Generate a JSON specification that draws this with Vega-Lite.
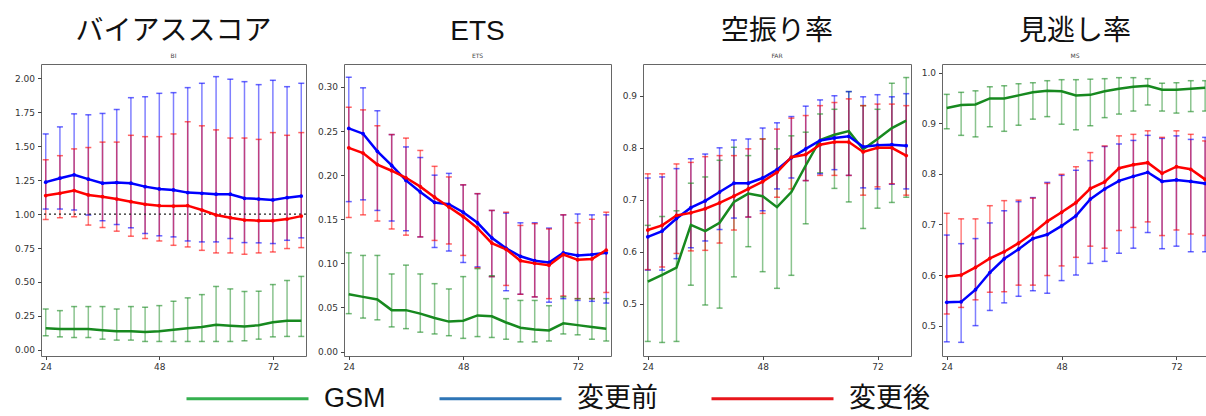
{
"$schema": "https://vega.github.io/schema/vega-lite/v6.json",
"background": "white",
"padding": {"left": 13, "top": 17, "right": 0, "bottom": 41},
"spacing": 8,
"config": {
 "view": {"stroke": "#666", "strokeWidth": 1},
 "axis": {"grid": false, "domain": false, "labelFont": "DejaVu Sans", "labelFontSize": 9, "labelColor": "#333", "tickColor": "#444", "tickSize": 3.5, "labelPadding": 3, "labelFlush": false, "labelOverlap": false},
 "title": {"font": "Liberation Sans, Noto Sans CJK JP", "fontSize": 28, "fontWeight": "normal", "color": "#111", "subtitleFont": "DejaVu Sans", "subtitleFontSize": 6, "subtitleColor": "#444", "subtitlePadding": 7.5, "offset": 5, "frame": "group", "anchor": "middle"}
},
"datasets": {"d": [
{"p":"BI","s":"GSM","x":24,"m":0.16,"lo":0.104,"hi":0.301},
{"p":"BI","s":"GSM","x":27,"m":0.153,"lo":0.096,"hi":0.289},
{"p":"BI","s":"GSM","x":30,"m":0.153,"lo":0.091,"hi":0.319},
{"p":"BI","s":"GSM","x":33,"m":0.153,"lo":0.091,"hi":0.319},
{"p":"BI","s":"GSM","x":36,"m":0.145,"lo":0.079,"hi":0.319},
{"p":"BI","s":"GSM","x":39,"m":0.137,"lo":0.072,"hi":0.301},
{"p":"BI","s":"GSM","x":42,"m":0.137,"lo":0.072,"hi":0.319},
{"p":"BI","s":"GSM","x":45,"m":0.132,"lo":0.062,"hi":0.314},
{"p":"BI","s":"GSM","x":48,"m":0.137,"lo":0.062,"hi":0.326},
{"p":"BI","s":"GSM","x":51,"m":0.148,"lo":0.062,"hi":0.358},
{"p":"BI","s":"GSM","x":54,"m":0.16,"lo":0.062,"hi":0.383},
{"p":"BI","s":"GSM","x":57,"m":0.168,"lo":0.062,"hi":0.407},
{"p":"BI","s":"GSM","x":60,"m":0.185,"lo":0.062,"hi":0.467},
{"p":"BI","s":"GSM","x":63,"m":0.178,"lo":0.062,"hi":0.449},
{"p":"BI","s":"GSM","x":66,"m":0.172,"lo":0.067,"hi":0.43},
{"p":"BI","s":"GSM","x":69,"m":0.182,"lo":0.079,"hi":0.432},
{"p":"BI","s":"GSM","x":72,"m":0.203,"lo":0.096,"hi":0.481},
{"p":"BI","s":"GSM","x":75,"m":0.215,"lo":0.099,"hi":0.511},
{"p":"BI","s":"GSM","x":78,"m":0.215,"lo":0.099,"hi":0.541},
{"p":"BI","s":"変更前","x":24,"m":1.235,"lo":1.037,"hi":1.59},
{"p":"BI","s":"変更前","x":27,"m":1.264,"lo":1.037,"hi":1.642},
{"p":"BI","s":"変更前","x":30,"m":1.289,"lo":1.03,"hi":1.738},
{"p":"BI","s":"変更前","x":33,"m":1.257,"lo":0.993,"hi":1.731},
{"p":"BI","s":"変更前","x":36,"m":1.227,"lo":0.951,"hi":1.741},
{"p":"BI","s":"変更前","x":39,"m":1.232,"lo":0.923,"hi":1.77},
{"p":"BI","s":"変更前","x":42,"m":1.227,"lo":0.899,"hi":1.857},
{"p":"BI","s":"変更前","x":45,"m":1.202,"lo":0.857,"hi":1.864},
{"p":"BI","s":"変更前","x":48,"m":1.185,"lo":0.84,"hi":1.889},
{"p":"BI","s":"変更前","x":51,"m":1.178,"lo":0.832,"hi":1.894},
{"p":"BI","s":"変更前","x":54,"m":1.158,"lo":0.802,"hi":1.931},
{"p":"BI","s":"変更前","x":57,"m":1.153,"lo":0.795,"hi":1.963},
{"p":"BI","s":"変更前","x":60,"m":1.146,"lo":0.795,"hi":2.012},
{"p":"BI","s":"変更前","x":63,"m":1.146,"lo":0.82,"hi":1.993},
{"p":"BI","s":"変更前","x":66,"m":1.116,"lo":0.79,"hi":1.975},
{"p":"BI","s":"変更前","x":69,"m":1.111,"lo":0.788,"hi":1.953},
{"p":"BI","s":"変更前","x":72,"m":1.104,"lo":0.783,"hi":1.985},
{"p":"BI","s":"変更前","x":75,"m":1.121,"lo":0.807,"hi":1.938},
{"p":"BI","s":"変更前","x":78,"m":1.133,"lo":0.825,"hi":1.963},
{"p":"BI","s":"変更後","x":24,"m":1.136,"lo":0.96,"hi":1.40},
{"p":"BI","s":"変更後","x":27,"m":1.153,"lo":0.973,"hi":1.43},
{"p":"BI","s":"変更後","x":30,"m":1.173,"lo":0.98,"hi":1.48},
{"p":"BI","s":"変更後","x":33,"m":1.141,"lo":0.919,"hi":1.49},
{"p":"BI","s":"変更後","x":36,"m":1.128,"lo":0.901,"hi":1.53},
{"p":"BI","s":"変更後","x":39,"m":1.111,"lo":0.874,"hi":1.53},
{"p":"BI","s":"変更後","x":42,"m":1.091,"lo":0.837,"hi":1.58},
{"p":"BI","s":"変更後","x":45,"m":1.072,"lo":0.82,"hi":1.57},
{"p":"BI","s":"変更後","x":48,"m":1.062,"lo":0.802,"hi":1.57},
{"p":"BI","s":"変更後","x":51,"m":1.059,"lo":0.77,"hi":1.59},
{"p":"BI","s":"変更後","x":54,"m":1.062,"lo":0.758,"hi":1.68},
{"p":"BI","s":"変更後","x":57,"m":1.03,"lo":0.733,"hi":1.65},
{"p":"BI","s":"変更後","x":60,"m":0.993,"lo":0.714,"hi":1.62},
{"p":"BI","s":"変更後","x":63,"m":0.973,"lo":0.714,"hi":1.56},
{"p":"BI","s":"変更後","x":66,"m":0.956,"lo":0.704,"hi":1.56},
{"p":"BI","s":"変更後","x":69,"m":0.951,"lo":0.714,"hi":1.55},
{"p":"BI","s":"変更後","x":72,"m":0.951,"lo":0.721,"hi":1.60},
{"p":"BI","s":"変更後","x":75,"m":0.963,"lo":0.746,"hi":1.58},
{"p":"BI","s":"変更後","x":78,"m":0.985,"lo":0.753,"hi":1.60},
{"p":"ETS","s":"GSM","x":24,"m":0.065,"lo":0.043,"hi":0.112},
{"p":"ETS","s":"GSM","x":27,"m":0.062,"lo":0.038,"hi":0.109},
{"p":"ETS","s":"GSM","x":30,"m":0.059,"lo":0.036,"hi":0.109},
{"p":"ETS","s":"GSM","x":33,"m":0.047,"lo":0.028,"hi":0.088},
{"p":"ETS","s":"GSM","x":36,"m":0.047,"lo":0.026,"hi":0.098},
{"p":"ETS","s":"GSM","x":39,"m":0.043,"lo":0.022,"hi":0.088},
{"p":"ETS","s":"GSM","x":42,"m":0.038,"lo":0.02,"hi":0.077},
{"p":"ETS","s":"GSM","x":45,"m":0.034,"lo":0.018,"hi":0.071},
{"p":"ETS","s":"GSM","x":48,"m":0.035,"lo":0.015,"hi":0.085},
{"p":"ETS","s":"GSM","x":51,"m":0.041,"lo":0.017,"hi":0.094},
{"p":"ETS","s":"GSM","x":54,"m":0.04,"lo":0.016,"hi":0.086},
{"p":"ETS","s":"GSM","x":57,"m":0.033,"lo":0.014,"hi":0.06},
{"p":"ETS","s":"GSM","x":60,"m":0.027,"lo":0.011,"hi":0.058},
{"p":"ETS","s":"GSM","x":63,"m":0.025,"lo":0.011,"hi":0.058},
{"p":"ETS","s":"GSM","x":66,"m":0.024,"lo":0.012,"hi":0.052},
{"p":"ETS","s":"GSM","x":69,"m":0.032,"lo":0.02,"hi":0.062},
{"p":"ETS","s":"GSM","x":72,"m":0.03,"lo":0.019,"hi":0.06},
{"p":"ETS","s":"GSM","x":75,"m":0.028,"lo":0.014,"hi":0.06},
{"p":"ETS","s":"GSM","x":78,"m":0.026,"lo":0.012,"hi":0.06},
{"p":"ETS","s":"変更前","x":24,"m":0.253,"lo":0.17,"hi":0.311},
{"p":"ETS","s":"変更前","x":27,"m":0.247,"lo":0.172,"hi":0.299},
{"p":"ETS","s":"変更前","x":30,"m":0.227,"lo":0.16,"hi":0.273},
{"p":"ETS","s":"変更前","x":33,"m":0.211,"lo":0.148,"hi":0.246},
{"p":"ETS","s":"変更前","x":36,"m":0.194,"lo":0.137,"hi":0.232},
{"p":"ETS","s":"変更前","x":39,"m":0.181,"lo":0.13,"hi":0.22},
{"p":"ETS","s":"変更前","x":42,"m":0.169,"lo":0.118,"hi":0.2},
{"p":"ETS","s":"変更前","x":45,"m":0.167,"lo":0.114,"hi":0.202},
{"p":"ETS","s":"変更前","x":48,"m":0.158,"lo":0.101,"hi":0.189},
{"p":"ETS","s":"変更前","x":51,"m":0.146,"lo":0.096,"hi":0.179},
{"p":"ETS","s":"変更前","x":54,"m":0.129,"lo":0.085,"hi":0.16},
{"p":"ETS","s":"変更前","x":57,"m":0.117,"lo":0.069,"hi":0.157},
{"p":"ETS","s":"変更前","x":60,"m":0.108,"lo":0.065,"hi":0.146},
{"p":"ETS","s":"変更前","x":63,"m":0.103,"lo":0.062,"hi":0.146},
{"p":"ETS","s":"変更前","x":66,"m":0.101,"lo":0.056,"hi":0.14},
{"p":"ETS","s":"変更前","x":69,"m":0.112,"lo":0.06,"hi":0.155},
{"p":"ETS","s":"変更前","x":72,"m":0.109,"lo":0.058,"hi":0.156},
{"p":"ETS","s":"変更前","x":75,"m":0.11,"lo":0.057,"hi":0.155},
{"p":"ETS","s":"変更前","x":78,"m":0.112,"lo":0.055,"hi":0.155},
{"p":"ETS","s":"変更後","x":24,"m":0.231,"lo":0.152,"hi":0.277},
{"p":"ETS","s":"変更後","x":27,"m":0.225,"lo":0.155,"hi":0.274},
{"p":"ETS","s":"変更後","x":30,"m":0.212,"lo":0.148,"hi":0.256},
{"p":"ETS","s":"変更後","x":33,"m":0.205,"lo":0.139,"hi":0.246},
{"p":"ETS","s":"変更後","x":36,"m":0.197,"lo":0.132,"hi":0.242},
{"p":"ETS","s":"変更後","x":39,"m":0.187,"lo":0.13,"hi":0.228},
{"p":"ETS","s":"変更後","x":42,"m":0.175,"lo":0.126,"hi":0.21},
{"p":"ETS","s":"変更後","x":45,"m":0.164,"lo":0.122,"hi":0.198},
{"p":"ETS","s":"変更後","x":48,"m":0.153,"lo":0.109,"hi":0.189},
{"p":"ETS","s":"変更後","x":51,"m":0.14,"lo":0.095,"hi":0.179},
{"p":"ETS","s":"変更後","x":54,"m":0.123,"lo":0.085,"hi":0.16},
{"p":"ETS","s":"変更後","x":57,"m":0.116,"lo":0.075,"hi":0.158},
{"p":"ETS","s":"変更後","x":60,"m":0.103,"lo":0.065,"hi":0.143},
{"p":"ETS","s":"変更後","x":63,"m":0.1,"lo":0.062,"hi":0.145},
{"p":"ETS","s":"変更後","x":66,"m":0.098,"lo":0.06,"hi":0.139},
{"p":"ETS","s":"変更後","x":69,"m":0.11,"lo":0.063,"hi":0.155},
{"p":"ETS","s":"変更後","x":72,"m":0.104,"lo":0.06,"hi":0.146},
{"p":"ETS","s":"変更後","x":75,"m":0.105,"lo":0.06,"hi":0.15},
{"p":"ETS","s":"変更後","x":78,"m":0.115,"lo":0.067,"hi":0.158},
{"p":"FAR","s":"GSM","x":24,"m":0.543,"lo":0.428,"hi":0.651},
{"p":"FAR","s":"GSM","x":27,"m":0.556,"lo":0.426,"hi":0.668},
{"p":"FAR","s":"GSM","x":30,"m":0.57,"lo":0.428,"hi":0.679},
{"p":"FAR","s":"GSM","x":33,"m":0.652,"lo":0.536,"hi":0.732},
{"p":"FAR","s":"GSM","x":36,"m":0.64,"lo":0.498,"hi":0.744},
{"p":"FAR","s":"GSM","x":39,"m":0.656,"lo":0.492,"hi":0.776},
{"p":"FAR","s":"GSM","x":42,"m":0.696,"lo":0.552,"hi":0.801},
{"p":"FAR","s":"GSM","x":45,"m":0.712,"lo":0.61,"hi":0.785},
{"p":"FAR","s":"GSM","x":48,"m":0.707,"lo":0.562,"hi":0.817},
{"p":"FAR","s":"GSM","x":51,"m":0.686,"lo":0.53,"hi":0.798},
{"p":"FAR","s":"GSM","x":54,"m":0.715,"lo":0.555,"hi":0.823},
{"p":"FAR","s":"GSM","x":57,"m":0.766,"lo":0.654,"hi":0.83},
{"p":"FAR","s":"GSM","x":60,"m":0.815,"lo":0.752,"hi":0.865},
{"p":"FAR","s":"GSM","x":63,"m":0.825,"lo":0.722,"hi":0.874},
{"p":"FAR","s":"GSM","x":66,"m":0.832,"lo":0.696,"hi":0.908},
{"p":"FAR","s":"GSM","x":69,"m":0.797,"lo":0.645,"hi":0.881},
{"p":"FAR","s":"GSM","x":72,"m":0.817,"lo":0.684,"hi":0.874},
{"p":"FAR","s":"GSM","x":75,"m":0.838,"lo":0.695,"hi":0.924},
{"p":"FAR","s":"GSM","x":78,"m":0.852,"lo":0.705,"hi":0.935},
{"p":"FAR","s":"変更前","x":24,"m":0.629,"lo":0.565,"hi":0.742},
{"p":"FAR","s":"変更前","x":27,"m":0.64,"lo":0.565,"hi":0.744},
{"p":"FAR","s":"変更前","x":30,"m":0.664,"lo":0.587,"hi":0.76},
{"p":"FAR","s":"変更前","x":33,"m":0.685,"lo":0.608,"hi":0.779},
{"p":"FAR","s":"変更前","x":36,"m":0.698,"lo":0.621,"hi":0.788},
{"p":"FAR","s":"変更前","x":39,"m":0.715,"lo":0.643,"hi":0.8},
{"p":"FAR","s":"変更前","x":42,"m":0.732,"lo":0.665,"hi":0.815},
{"p":"FAR","s":"変更前","x":45,"m":0.732,"lo":0.667,"hi":0.817},
{"p":"FAR","s":"変更前","x":48,"m":0.742,"lo":0.679,"hi":0.838},
{"p":"FAR","s":"変更前","x":51,"m":0.758,"lo":0.721,"hi":0.848},
{"p":"FAR","s":"変更前","x":54,"m":0.781,"lo":0.742,"hi":0.86},
{"p":"FAR","s":"変更前","x":57,"m":0.798,"lo":0.737,"hi":0.88},
{"p":"FAR","s":"変更前","x":60,"m":0.814,"lo":0.75,"hi":0.892},
{"p":"FAR","s":"変更前","x":63,"m":0.819,"lo":0.758,"hi":0.9},
{"p":"FAR","s":"変更前","x":66,"m":0.822,"lo":0.747,"hi":0.908},
{"p":"FAR","s":"変更前","x":69,"m":0.802,"lo":0.723,"hi":0.898},
{"p":"FAR","s":"変更前","x":72,"m":0.805,"lo":0.721,"hi":0.902},
{"p":"FAR","s":"変更前","x":75,"m":0.806,"lo":0.73,"hi":0.898},
{"p":"FAR","s":"変更前","x":78,"m":0.804,"lo":0.721,"hi":0.904},
{"p":"FAR","s":"変更後","x":24,"m":0.642,"lo":0.566,"hi":0.75},
{"p":"FAR","s":"変更後","x":27,"m":0.651,"lo":0.571,"hi":0.75},
{"p":"FAR","s":"変更後","x":30,"m":0.67,"lo":0.597,"hi":0.769},
{"p":"FAR","s":"変更後","x":33,"m":0.675,"lo":0.602,"hi":0.772},
{"p":"FAR","s":"変更後","x":36,"m":0.683,"lo":0.603,"hi":0.783},
{"p":"FAR","s":"変更後","x":39,"m":0.694,"lo":0.617,"hi":0.785},
{"p":"FAR","s":"変更後","x":42,"m":0.707,"lo":0.642,"hi":0.785},
{"p":"FAR","s":"変更後","x":45,"m":0.721,"lo":0.667,"hi":0.798},
{"p":"FAR","s":"変更後","x":48,"m":0.735,"lo":0.674,"hi":0.817},
{"p":"FAR","s":"変更後","x":51,"m":0.753,"lo":0.705,"hi":0.836},
{"p":"FAR","s":"変更後","x":54,"m":0.782,"lo":0.721,"hi":0.857},
{"p":"FAR","s":"変更後","x":57,"m":0.787,"lo":0.737,"hi":0.862},
{"p":"FAR","s":"変更後","x":60,"m":0.806,"lo":0.747,"hi":0.881},
{"p":"FAR","s":"変更後","x":63,"m":0.811,"lo":0.747,"hi":0.887},
{"p":"FAR","s":"変更後","x":66,"m":0.811,"lo":0.747,"hi":0.894},
{"p":"FAR","s":"変更後","x":69,"m":0.792,"lo":0.709,"hi":0.881},
{"p":"FAR","s":"変更後","x":72,"m":0.8,"lo":0.725,"hi":0.884},
{"p":"FAR","s":"変更後","x":75,"m":0.8,"lo":0.731,"hi":0.884},
{"p":"FAR","s":"変更後","x":78,"m":0.785,"lo":0.709,"hi":0.881},
{"p":"MS","s":"GSM","x":24,"m":0.93,"lo":0.889,"hi":0.957},
{"p":"MS","s":"GSM","x":27,"m":0.936,"lo":0.876,"hi":0.961},
{"p":"MS","s":"GSM","x":30,"m":0.937,"lo":0.873,"hi":0.964},
{"p":"MS","s":"GSM","x":33,"m":0.949,"lo":0.893,"hi":0.972},
{"p":"MS","s":"GSM","x":36,"m":0.949,"lo":0.884,"hi":0.974},
{"p":"MS","s":"GSM","x":39,"m":0.955,"lo":0.896,"hi":0.978},
{"p":"MS","s":"GSM","x":42,"m":0.961,"lo":0.908,"hi":0.98},
{"p":"MS","s":"GSM","x":45,"m":0.964,"lo":0.913,"hi":0.984},
{"p":"MS","s":"GSM","x":48,"m":0.963,"lo":0.898,"hi":0.986},
{"p":"MS","s":"GSM","x":51,"m":0.955,"lo":0.887,"hi":0.986},
{"p":"MS","s":"GSM","x":54,"m":0.956,"lo":0.895,"hi":0.987},
{"p":"MS","s":"GSM","x":57,"m":0.963,"lo":0.911,"hi":0.988},
{"p":"MS","s":"GSM","x":60,"m":0.968,"lo":0.918,"hi":0.99},
{"p":"MS","s":"GSM","x":63,"m":0.972,"lo":0.924,"hi":0.99},
{"p":"MS","s":"GSM","x":66,"m":0.974,"lo":0.936,"hi":0.988},
{"p":"MS","s":"GSM","x":69,"m":0.966,"lo":0.924,"hi":0.979},
{"p":"MS","s":"GSM","x":72,"m":0.966,"lo":0.92,"hi":0.98},
{"p":"MS","s":"GSM","x":75,"m":0.968,"lo":0.923,"hi":0.984},
{"p":"MS","s":"GSM","x":78,"m":0.97,"lo":0.924,"hi":0.984},
{"p":"MS","s":"変更前","x":24,"m":0.546,"lo":0.468,"hi":0.679},
{"p":"MS","s":"変更前","x":27,"m":0.547,"lo":0.467,"hi":0.662},
{"p":"MS","s":"変更前","x":30,"m":0.571,"lo":0.5,"hi":0.672},
{"p":"MS","s":"変更前","x":33,"m":0.605,"lo":0.53,"hi":0.703},
{"p":"MS","s":"変更前","x":36,"m":0.632,"lo":0.545,"hi":0.727},
{"p":"MS","s":"変更前","x":39,"m":0.651,"lo":0.558,"hi":0.745},
{"p":"MS","s":"変更前","x":42,"m":0.672,"lo":0.569,"hi":0.753},
{"p":"MS","s":"変更前","x":45,"m":0.68,"lo":0.564,"hi":0.783},
{"p":"MS","s":"変更前","x":48,"m":0.697,"lo":0.589,"hi":0.797},
{"p":"MS","s":"変更前","x":51,"m":0.717,"lo":0.6,"hi":0.807},
{"p":"MS","s":"変更前","x":54,"m":0.75,"lo":0.623,"hi":0.826},
{"p":"MS","s":"変更前","x":57,"m":0.77,"lo":0.627,"hi":0.854},
{"p":"MS","s":"変更前","x":60,"m":0.786,"lo":0.643,"hi":0.859},
{"p":"MS","s":"変更前","x":63,"m":0.795,"lo":0.653,"hi":0.866},
{"p":"MS","s":"変更前","x":66,"m":0.803,"lo":0.684,"hi":0.876},
{"p":"MS","s":"変更前","x":69,"m":0.785,"lo":0.652,"hi":0.87},
{"p":"MS","s":"変更前","x":72,"m":0.788,"lo":0.657,"hi":0.875},
{"p":"MS","s":"変更前","x":75,"m":0.785,"lo":0.646,"hi":0.868},
{"p":"MS","s":"変更前","x":78,"m":0.781,"lo":0.646,"hi":0.872},
{"p":"MS","s":"変更後","x":24,"m":0.597,"lo":0.523,"hi":0.722},
{"p":"MS","s":"変更後","x":27,"m":0.6,"lo":0.536,"hi":0.711},
{"p":"MS","s":"変更後","x":30,"m":0.615,"lo":0.551,"hi":0.711},
{"p":"MS","s":"変更後","x":33,"m":0.633,"lo":0.566,"hi":0.737},
{"p":"MS","s":"変更後","x":36,"m":0.646,"lo":0.567,"hi":0.747},
{"p":"MS","s":"変更後","x":39,"m":0.663,"lo":0.58,"hi":0.748},
{"p":"MS","s":"変更後","x":42,"m":0.683,"lo":0.58,"hi":0.752},
{"p":"MS","s":"変更後","x":45,"m":0.706,"lo":0.599,"hi":0.781},
{"p":"MS","s":"変更後","x":48,"m":0.724,"lo":0.618,"hi":0.799},
{"p":"MS","s":"変更後","x":51,"m":0.743,"lo":0.635,"hi":0.814},
{"p":"MS","s":"変更後","x":54,"m":0.771,"lo":0.657,"hi":0.842},
{"p":"MS","s":"変更後","x":57,"m":0.784,"lo":0.653,"hi":0.855},
{"p":"MS","s":"変更後","x":60,"m":0.811,"lo":0.688,"hi":0.875},
{"p":"MS","s":"変更後","x":63,"m":0.818,"lo":0.694,"hi":0.878},
{"p":"MS","s":"変更後","x":66,"m":0.822,"lo":0.705,"hi":0.885},
{"p":"MS","s":"変更後","x":69,"m":0.801,"lo":0.678,"hi":0.872},
{"p":"MS","s":"変更後","x":72,"m":0.814,"lo":0.689,"hi":0.885},
{"p":"MS","s":"変更後","x":75,"m":0.809,"lo":0.681,"hi":0.878},
{"p":"MS","s":"変更後","x":78,"m":0.789,"lo":0.678,"hi":0.865}
]},
"hconcat": [
{
 "width": 265, "height": 292,
 "title": {"text": "バイアススコア", "subtitle": "BI"},
 "data": {"name": "d"},
 "transform": [{"filter": "datum.p === 'BI'"}],
 "encoding": {
  "color": {"field": "s", "type": "nominal", "scale": {"range": ["#17891f", "#0000ff", "#ff0000"]}, "legend": null}
 },
 "layer": [
  {"mark": {"type": "rule", "strokeWidth": 1.5, "opacity": 0.5}, "encoding": {"x": {"field": "x", "type": "quantitative", "title": null, "scale": {"domain": [23, 79], "nice": false, "zero": false}, "axis": {"values": [24, 48, 72]}}, "y": {"field": "lo", "type": "quantitative", "title": null, "scale": {"domain": [-0.045, 2.105], "nice": false, "zero": false}, "axis": {"values": [0, 0.25, 0.5, 0.75, 1, 1.25, 1.5, 1.75, 2], "tickCount": 9, "format": ".2f", "title": null}}, "y2": {"field": "hi"}}},
  {"mark": {"type": "point", "shape": "stroke", "size": 36, "strokeWidth": 1.5, "opacity": 0.6}, "encoding": {"x": {"field": "x", "type": "quantitative"}, "y": {"field": "lo", "type": "quantitative", "title": null, "axis": {"values": [0, 0.25, 0.5, 0.75, 1, 1.25, 1.5, 1.75, 2], "tickCount": 9, "format": ".2f", "title": null}}}},
  {"mark": {"type": "point", "shape": "stroke", "size": 36, "strokeWidth": 1.5, "opacity": 0.6}, "encoding": {"x": {"field": "x", "type": "quantitative"}, "y": {"field": "hi", "type": "quantitative", "title": null, "axis": {"values": [0, 0.25, 0.5, 0.75, 1, 1.25, 1.5, 1.75, 2], "tickCount": 9, "format": ".2f", "title": null}}}},
  {"transform": [{"filter": "datum.s === 'GSM' && datum.x === 24"}], "mark": {"type": "rule", "strokeDash": [2, 3], "strokeWidth": 1.2}, "encoding": {"y": {"datum": 1, "type": "quantitative", "title": null, "axis": {"values": [0, 0.25, 0.5, 0.75, 1, 1.25, 1.5, 1.75, 2], "tickCount": 9, "format": ".2f", "title": null}}, "color": {"value": "#222"}}},
  {"mark": {"type": "line", "strokeWidth": 2.5}, "encoding": {"x": {"field": "x", "type": "quantitative"}, "y": {"field": "m", "type": "quantitative", "title": null, "axis": {"values": [0, 0.25, 0.5, 0.75, 1, 1.25, 1.5, 1.75, 2], "tickCount": 9, "format": ".2f", "title": null}}}},
  {"transform": [{"filter": "datum.s !== 'GSM'"}], "mark": {"type": "point", "filled": true, "size": 14, "opacity": 1}, "encoding": {"x": {"field": "x", "type": "quantitative"}, "y": {"field": "m", "type": "quantitative", "title": null, "axis": {"values": [0, 0.25, 0.5, 0.75, 1, 1.25, 1.5, 1.75, 2], "tickCount": 9, "format": ".2f", "title": null}}}},
  {"transform": [{"filter": "datum.x < 0"}], "mark": {"type": "line"}, "encoding": {"x": {"field": "x", "type": "quantitative"}, "y": {"field": "m", "type": "quantitative", "title": null, "axis": {"values": [0, 0.25, 0.5, 0.75, 1, 1.25, 1.5, 1.75, 2], "tickCount": 9, "format": ".2f", "title": null}}, "stroke": {"field": "s", "type": "nominal", "scale": {"domain": ["GSM", "変更前", "変更後"], "range": ["#35b04f", "#2e75b6", "#e8161c"]}, "legend": {"orient": "none", "legendX": 144, "legendY": 272, "direction": "horizontal", "title": null, "padding": 0, "symbolType": "stroke", "symbolSize": 14884, "symbolStrokeWidth": 3, "symbolOpacity": 1, "labelFont": "Liberation Sans, Noto Sans CJK JP", "labelFontSize": 27, "labelColor": "#111", "labelOffset": 14, "columnPadding": 47, "labelLimit": 300}}}}
 ]
},
{
 "width": 267, "height": 292,
 "title": {"text": "ETS", "subtitle": "ETS"},
 "data": {"name": "d"},
 "transform": [{"filter": "datum.p === 'ETS'"}],
 "encoding": {
  "x": {"field": "x", "type": "quantitative", "title": null, "scale": {"domain": [23, 79], "nice": false, "zero": false}, "axis": {"values": [24, 48, 72]}},
  "color": {"field": "s", "type": "nominal", "scale": {"range": ["#17891f", "#0000ff", "#ff0000"]}, "legend": null}
 },
 "layer": [
  {"mark": {"type": "rule", "strokeWidth": 1.5, "opacity": 0.5}, "encoding": {"y": {"field": "lo", "type": "quantitative", "title": null, "scale": {"domain": [-0.005, 0.326], "nice": false, "zero": false}, "axis": {"values": [0, 0.05, 0.1, 0.15, 0.2, 0.25, 0.3], "format": ".2f", "title": null}}, "y2": {"field": "hi"}}},
  {"mark": {"type": "point", "shape": "stroke", "size": 36, "strokeWidth": 1.5, "opacity": 0.6}, "encoding": {"y": {"field": "lo", "type": "quantitative", "title": null}}},
  {"mark": {"type": "point", "shape": "stroke", "size": 36, "strokeWidth": 1.5, "opacity": 0.6}, "encoding": {"y": {"field": "hi", "type": "quantitative", "title": null}}},
  {"mark": {"type": "line", "strokeWidth": 2.5}, "encoding": {"y": {"field": "m", "type": "quantitative", "title": null}}},
  {"transform": [{"filter": "datum.s !== 'GSM'"}], "mark": {"type": "point", "filled": true, "size": 14, "opacity": 1}, "encoding": {"y": {"field": "m", "type": "quantitative", "title": null}}}
 ]
},
{
 "width": 268, "height": 292,
 "title": {"text": "空振り率", "subtitle": "FAR"},
 "data": {"name": "d"},
 "transform": [{"filter": "datum.p === 'FAR'"}],
 "encoding": {
  "x": {"field": "x", "type": "quantitative", "title": null, "scale": {"domain": [23, 79], "nice": false, "zero": false}, "axis": {"values": [24, 48, 72]}},
  "color": {"field": "s", "type": "nominal", "scale": {"range": ["#17891f", "#0000ff", "#ff0000"]}, "legend": null}
 },
 "layer": [
  {"mark": {"type": "rule", "strokeWidth": 1.5, "opacity": 0.5}, "encoding": {"y": {"field": "lo", "type": "quantitative", "title": null, "scale": {"domain": [0.40, 0.961], "nice": false, "zero": false}, "axis": {"values": [0.5, 0.6, 0.7, 0.8, 0.9], "format": ".1f", "title": null}}, "y2": {"field": "hi"}}},
  {"mark": {"type": "point", "shape": "stroke", "size": 36, "strokeWidth": 1.5, "opacity": 0.6}, "encoding": {"y": {"field": "lo", "type": "quantitative", "title": null}}},
  {"mark": {"type": "point", "shape": "stroke", "size": 36, "strokeWidth": 1.5, "opacity": 0.6}, "encoding": {"y": {"field": "hi", "type": "quantitative", "title": null}}},
  {"mark": {"type": "line", "strokeWidth": 2.5}, "encoding": {"y": {"field": "m", "type": "quantitative", "title": null}}},
  {"transform": [{"filter": "datum.s !== 'GSM'"}], "mark": {"type": "point", "filled": true, "size": 14, "opacity": 1}, "encoding": {"y": {"field": "m", "type": "quantitative", "title": null}}}
 ]
},
{
 "width": 266, "height": 292,
 "view": {"stroke": null},
 "title": {"text": "見逃し率", "subtitle": "MS"},
 "data": {"name": "d"},
 "transform": [{"filter": "datum.p === 'MS'"}],
 "resolve": {"axis": {"x": "independent"}},
 "encoding": {
  "x": {"field": "x", "type": "quantitative", "title": null, "scale": {"domain": [23, 78.6], "nice": false, "zero": false}, "axis": null},
  "color": {"field": "s", "type": "nominal", "scale": {"range": ["#17891f", "#0000ff", "#ff0000"]}, "legend": null}
 },
 "layer": [
  {"mark": {"type": "rule", "strokeWidth": 1.5, "opacity": 0.5}, "encoding": {"x": {"field": "x", "type": "quantitative", "title": null, "axis": {"values": [24, 48, 72], "domain": true, "domainColor": "#666"}}, "y": {"field": "lo", "type": "quantitative", "title": null, "scale": {"domain": [0.44, 1.017], "nice": false, "zero": false}, "axis": {"values": [0.5, 0.6, 0.7, 0.8, 0.9, 1.0], "format": ".1f", "title": null, "domain": true, "domainColor": "#666"}}, "y2": {"field": "hi"}}},
  {"mark": {"type": "point", "shape": "stroke", "size": 36, "strokeWidth": 1.5, "opacity": 0.6}, "encoding": {"y": {"field": "lo", "type": "quantitative", "title": null}}},
  {"mark": {"type": "point", "shape": "stroke", "size": 36, "strokeWidth": 1.5, "opacity": 0.6}, "encoding": {"y": {"field": "hi", "type": "quantitative", "title": null}}},
  {"mark": {"type": "line", "strokeWidth": 2.5}, "encoding": {"y": {"field": "m", "type": "quantitative", "title": null}}},
  {"transform": [{"filter": "datum.s !== 'GSM'"}], "mark": {"type": "point", "filled": true, "size": 14, "opacity": 1}, "encoding": {"y": {"field": "m", "type": "quantitative", "title": null}}},
  {"transform": [{"filter": "datum.x < 0"}], "mark": {"type": "point"}, "encoding": {"x": {"field": "x", "type": "quantitative", "title": null, "axis": {"orient": "top", "labels": false, "ticks": false, "domain": true, "domainColor": "#666"}}, "y": {"field": "m", "type": "quantitative", "title": null}}}
 ]
}
]
}
